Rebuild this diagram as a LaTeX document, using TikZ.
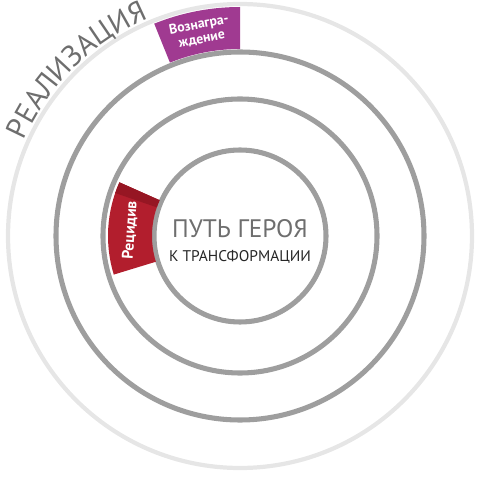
\documentclass[tikz,border=0pt]{standalone}
\usepackage{fontspec}
\setmainfont{PT Sans}
\usetikzlibrary{calc,decorations.text}
\definecolor{G4}{RGB}{158,158,158}
\definecolor{W4}{RGB}{230,230,230}
\definecolor{T4}{RGB}{110,110,110}
\definecolor{P4}{RGB}{160,58,145}
\definecolor{R4}{RGB}{178,30,45}
\definecolor{R5}{RGB}{150,22,35}

\begin{document}
\begin{tikzpicture}[x=0.025cm, y=0.025cm]
      \useasboundingbox (0,0) rectangle (482,482);
      \coordinate (c) at (240,246);
      % rings
      \draw[W4, line width=3pt] (c) circle (232);
      \draw[G4, line width=3.6pt] (c) circle (184);
      \draw[G4, line width=3.6pt] (c) circle (137);
      \draw[G4, line width=3.6pt] (c) circle (86);
      % outer label
      \path[decorate, decoration={text along path, text align=center,
            text={|\fontsize{21}{21}\selectfont\color{T4}|РЕАЛИЗАЦИЯ}}]
            (c) ++(165:236) arc[start angle=165, end angle=104, radius=236];
      % tags
      \fill[P4] (c) ++(90:187) arc[start angle=90, end angle=112, radius=187]
            -- ++(112:42) arc[start angle=112, end angle=90, radius=229] -- cycle;
      \fill[R4] (c) ++(156:88) arc[start angle=156, end angle=197, radius=88]
            -- ++(197:44) arc[start angle=197, end angle=156, radius=132] -- cycle;
      \fill[R5] (c) ++(156:88) arc[start angle=156, end angle=161, radius=88]
            -- ++(161:44) arc[start angle=161, end angle=156, radius=132] -- cycle;
      \node (rew) [rotate=11, white, align=center, font=\bfseries\fontsize{9.8}{10.5}\selectfont]
            at ($(c)+(101:208)$) {Вознагра-\\ждение};
      \node (rel) [rotate=86, white, font=\bfseries\fontsize{11}{11}\selectfont]
            at ($(c)+(177:110)$) {Рецидив};
      % centre
      \node (hero) [T4, font=\fontsize{18}{18}\selectfont] at ($(c)+(0,7)$) {ПУТЬ ГЕРОЯ};
      \node (trans) [black!85, font=\fontsize{11}{11}\selectfont] at ($(c)+(0,-21)$) {К ТРАНСФОРМАЦИИ};
    \end{tikzpicture}
\end{document}
